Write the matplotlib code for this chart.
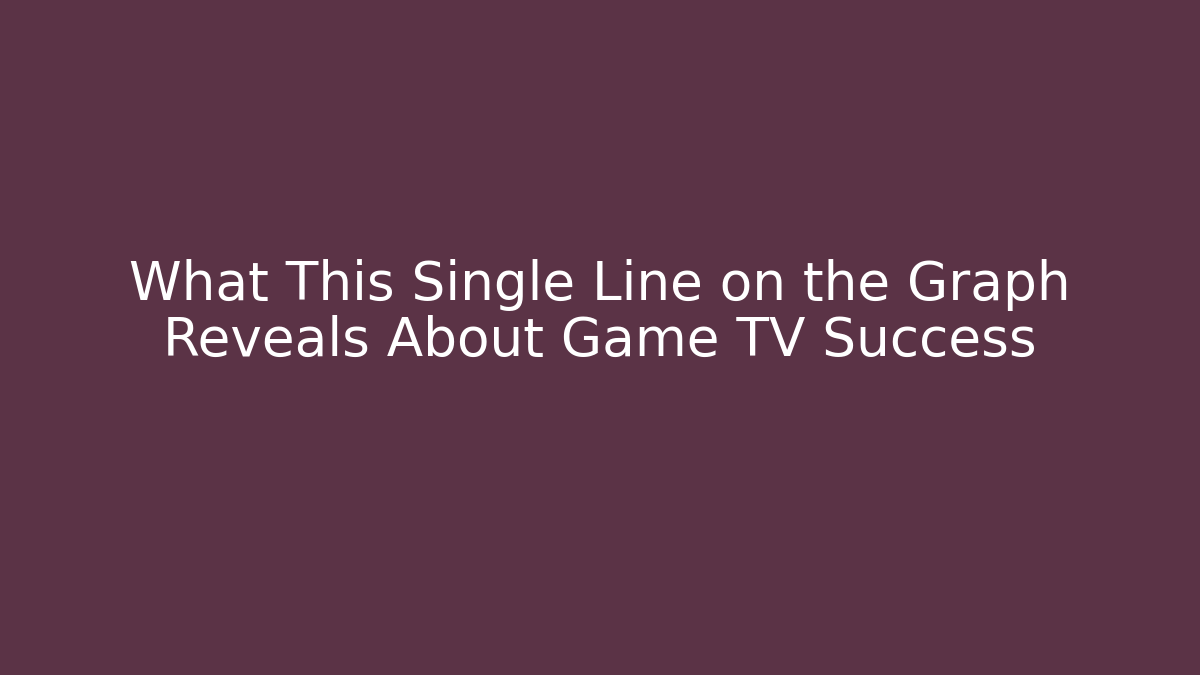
# Title card: solid background with centered two-line headline
import matplotlib.pyplot as plt

bg_color = "#5B3346"
title_lines = ["What This Single Line on the Graph",
               "Reveals About Game TV Success"]

fig = plt.figure(figsize=(12, 6.75), dpi=100)
fig.patch.set_facecolor(bg_color)

fig.text(0.5, 0.536, "\n".join(title_lines), ha="center", va="center",
         color="white", fontsize=38.3, family="DejaVu Sans", linespacing=1.1)

fig.savefig("out.png", dpi=100, facecolor=bg_color)
